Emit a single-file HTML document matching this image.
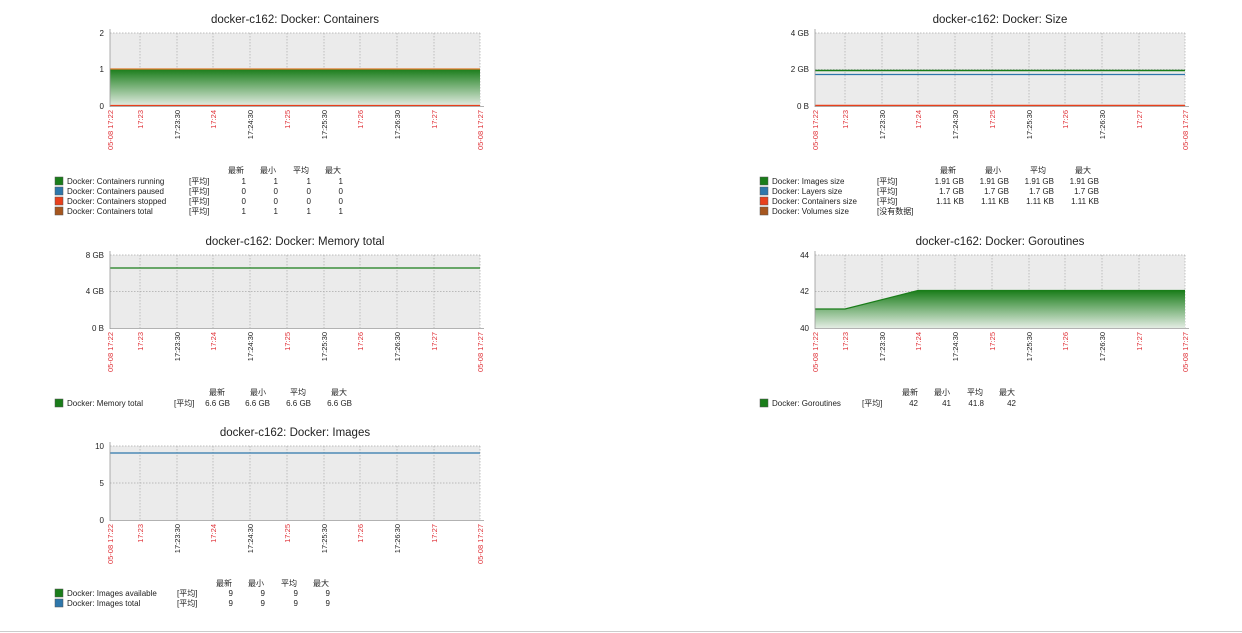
<!DOCTYPE html>
<html><head><meta charset="utf-8"><style>
body{margin:0;background:#fff;}
svg{display:block;font-family:"Liberation Sans","Noto Sans CJK SC",sans-serif;}
.t{font-size:11.5px;fill:#222;text-anchor:middle}
.y{font-size:8px;fill:#222;text-anchor:end}
.r{font-size:7.5px;fill:#e0343a;text-anchor:end}
.b{font-size:7.5px;fill:#222;text-anchor:end}
.l{font-size:8px;fill:#222}
.n{font-size:8px;fill:#222;text-anchor:end}
.h{font-size:8px;fill:#222;text-anchor:middle}
.g{stroke:#aaa;stroke-width:0.7;stroke-dasharray:1.5,1.5}
</style></head><body>
<svg width="1242" height="633" viewBox="0 0 1242 633">
<defs>
<linearGradient id="gf" x1="0" y1="0" x2="0" y2="1">
<stop offset="0" stop-color="#1a7d1a"/><stop offset="1" stop-color="#e3ede3"/>
</linearGradient>
</defs>

<!-- Chart 1 Containers -->
<g transform="translate(110,33)">
<text class="t" x="185" y="-10">docker-c162: Docker: Containers</text>
<rect x="0" y="0" width="370" height="73" fill="#ebebeb"/>
<g class="g"><line x1="0" y1="0" x2="370" y2="0"/><line x1="0" y1="36.5" x2="370" y2="36.5"/>
<line x1="30" y1="0" x2="30" y2="73"/><line x1="67" y1="0" x2="67" y2="73"/><line x1="103" y1="0" x2="103" y2="73"/><line x1="140" y1="0" x2="140" y2="73"/><line x1="177" y1="0" x2="177" y2="73"/><line x1="214" y1="0" x2="214" y2="73"/><line x1="250" y1="0" x2="250" y2="73"/><line x1="287" y1="0" x2="287" y2="73"/><line x1="324" y1="0" x2="324" y2="73"/><line x1="370" y1="0" x2="370" y2="73"/></g>
<rect x="0" y="36" width="370" height="37" fill="url(#gf)"/>
<line x1="0" y1="36" x2="370" y2="36" stroke="#e07a2a" stroke-width="1.2"/>
<line x1="0" y1="72.5" x2="370" y2="72.5" stroke="#e8401c" stroke-width="1.2"/>
<line x1="0" y1="-4" x2="0" y2="74" stroke="#999" stroke-width="0.8"/><line x1="0" y1="73.5" x2="374" y2="73.5" stroke="#999" stroke-width="0.8"/>
<text class="y" x="-6" y="3">2</text><text class="y" x="-6" y="39">1</text><text class="y" x="-6" y="76">0</text>
<g transform="translate(0,77)">
<text class="r" transform="translate(3,0) rotate(-90)">05-08 17:22</text>
<text class="r" transform="translate(33,0) rotate(-90)">17:23</text>
<text class="b" transform="translate(70,0) rotate(-90)">17:23:30</text>
<text class="r" transform="translate(106,0) rotate(-90)">17:24</text>
<text class="b" transform="translate(143,0) rotate(-90)">17:24:30</text>
<text class="r" transform="translate(180,0) rotate(-90)">17:25</text>
<text class="b" transform="translate(217,0) rotate(-90)">17:25:30</text>
<text class="r" transform="translate(253,0) rotate(-90)">17:26</text>
<text class="b" transform="translate(290,0) rotate(-90)">17:26:30</text>
<text class="r" transform="translate(327,0) rotate(-90)">17:27</text>
<text class="r" transform="translate(373,0) rotate(-90)">05-08 17:27</text>
</g>
</g>
<g transform="translate(55,173)">
<text class="h" x="181" y="0">最新</text><text class="h" x="213" y="0">最小</text><text class="h" x="246" y="0">平均</text><text class="h" x="278" y="0">最大</text>
<rect x="0" y="4" width="8" height="8" fill="#1a7d1a" stroke="#555" stroke-width="0.5"/><text class="l" x="12" y="11">Docker: Containers running</text><text class="l" x="134" y="11">[平均]</text><text class="n" x="191" y="11">1</text><text class="n" x="223" y="11">1</text><text class="n" x="256" y="11">1</text><text class="n" x="288" y="11">1</text>
<rect x="0" y="14" width="8" height="8" fill="#2e77ab" stroke="#555" stroke-width="0.5"/><text class="l" x="12" y="21">Docker: Containers paused</text><text class="l" x="134" y="21">[平均]</text><text class="n" x="191" y="21">0</text><text class="n" x="223" y="21">0</text><text class="n" x="256" y="21">0</text><text class="n" x="288" y="21">0</text>
<rect x="0" y="24" width="8" height="8" fill="#e8401c" stroke="#555" stroke-width="0.5"/><text class="l" x="12" y="31">Docker: Containers stopped</text><text class="l" x="134" y="31">[平均]</text><text class="n" x="191" y="31">0</text><text class="n" x="223" y="31">0</text><text class="n" x="256" y="31">0</text><text class="n" x="288" y="31">0</text>
<rect x="0" y="34" width="8" height="8" fill="#a6561f" stroke="#555" stroke-width="0.5"/><text class="l" x="12" y="41">Docker: Containers total</text><text class="l" x="134" y="41">[平均]</text><text class="n" x="191" y="41">1</text><text class="n" x="223" y="41">1</text><text class="n" x="256" y="41">1</text><text class="n" x="288" y="41">1</text>
</g>

<!-- Chart 2 Size -->
<g transform="translate(815,33)">
<text class="t" x="185" y="-10">docker-c162: Docker: Size</text>
<rect x="0" y="0" width="370" height="73" fill="#ebebeb"/>
<g class="g"><line x1="0" y1="0" x2="370" y2="0"/><line x1="0" y1="36.5" x2="370" y2="36.5"/>
<line x1="30" y1="0" x2="30" y2="73"/><line x1="67" y1="0" x2="67" y2="73"/><line x1="103" y1="0" x2="103" y2="73"/><line x1="140" y1="0" x2="140" y2="73"/><line x1="177" y1="0" x2="177" y2="73"/><line x1="214" y1="0" x2="214" y2="73"/><line x1="250" y1="0" x2="250" y2="73"/><line x1="287" y1="0" x2="287" y2="73"/><line x1="324" y1="0" x2="324" y2="73"/><line x1="370" y1="0" x2="370" y2="73"/></g>
<line x1="0" y1="37.5" x2="370" y2="37.5" stroke="#1a7d1a" stroke-width="1.5"/>
<line x1="0" y1="41.5" x2="370" y2="41.5" stroke="#2e77ab" stroke-width="1.2"/>
<line x1="0" y1="72.5" x2="370" y2="72.5" stroke="#e8401c" stroke-width="1.5"/>
<line x1="0" y1="-4" x2="0" y2="74" stroke="#999" stroke-width="0.8"/><line x1="0" y1="73.5" x2="374" y2="73.5" stroke="#999" stroke-width="0.8"/>
<text class="y" x="-6" y="3">4 GB</text><text class="y" x="-6" y="39">2 GB</text><text class="y" x="-6" y="76">0 B</text>
<g transform="translate(0,77)">
<text class="r" transform="translate(3,0) rotate(-90)">05-08 17:22</text>
<text class="r" transform="translate(33,0) rotate(-90)">17:23</text>
<text class="b" transform="translate(70,0) rotate(-90)">17:23:30</text>
<text class="r" transform="translate(106,0) rotate(-90)">17:24</text>
<text class="b" transform="translate(143,0) rotate(-90)">17:24:30</text>
<text class="r" transform="translate(180,0) rotate(-90)">17:25</text>
<text class="b" transform="translate(217,0) rotate(-90)">17:25:30</text>
<text class="r" transform="translate(253,0) rotate(-90)">17:26</text>
<text class="b" transform="translate(290,0) rotate(-90)">17:26:30</text>
<text class="r" transform="translate(327,0) rotate(-90)">17:27</text>
<text class="r" transform="translate(373,0) rotate(-90)">05-08 17:27</text>
</g>
</g>
<g transform="translate(760,173)">
<text class="h" x="188" y="0">最新</text><text class="h" x="233" y="0">最小</text><text class="h" x="278" y="0">平均</text><text class="h" x="323" y="0">最大</text>
<rect x="0" y="4" width="8" height="8" fill="#1a7d1a" stroke="#555" stroke-width="0.5"/><text class="l" x="12" y="11">Docker: Images size</text><text class="l" x="117" y="11">[平均]</text><text class="n" x="204" y="11">1.91 GB</text><text class="n" x="249" y="11">1.91 GB</text><text class="n" x="294" y="11">1.91 GB</text><text class="n" x="339" y="11">1.91 GB</text>
<rect x="0" y="14" width="8" height="8" fill="#2e77ab" stroke="#555" stroke-width="0.5"/><text class="l" x="12" y="21">Docker: Layers size</text><text class="l" x="117" y="21">[平均]</text><text class="n" x="204" y="21">1.7 GB</text><text class="n" x="249" y="21">1.7 GB</text><text class="n" x="294" y="21">1.7 GB</text><text class="n" x="339" y="21">1.7 GB</text>
<rect x="0" y="24" width="8" height="8" fill="#e8401c" stroke="#555" stroke-width="0.5"/><text class="l" x="12" y="31">Docker: Containers size</text><text class="l" x="117" y="31">[平均]</text><text class="n" x="204" y="31">1.11 KB</text><text class="n" x="249" y="31">1.11 KB</text><text class="n" x="294" y="31">1.11 KB</text><text class="n" x="339" y="31">1.11 KB</text>
<rect x="0" y="34" width="8" height="8" fill="#a6561f" stroke="#555" stroke-width="0.5"/><text class="l" x="12" y="41">Docker: Volumes size</text><text class="l" x="117" y="41">[没有数据]</text>
</g>

<!-- Chart 3 Memory -->
<g transform="translate(110,255)">
<text class="t" x="185" y="-10">docker-c162: Docker: Memory total</text>
<rect x="0" y="0" width="370" height="73" fill="#ebebeb"/>
<g class="g"><line x1="0" y1="0" x2="370" y2="0"/><line x1="0" y1="36.5" x2="370" y2="36.5"/>
<line x1="30" y1="0" x2="30" y2="73"/><line x1="67" y1="0" x2="67" y2="73"/><line x1="103" y1="0" x2="103" y2="73"/><line x1="140" y1="0" x2="140" y2="73"/><line x1="177" y1="0" x2="177" y2="73"/><line x1="214" y1="0" x2="214" y2="73"/><line x1="250" y1="0" x2="250" y2="73"/><line x1="287" y1="0" x2="287" y2="73"/><line x1="324" y1="0" x2="324" y2="73"/><line x1="370" y1="0" x2="370" y2="73"/></g>
<line x1="0" y1="13" x2="370" y2="13" stroke="#1a7d1a" stroke-width="1.2"/>
<line x1="0" y1="-4" x2="0" y2="74" stroke="#999" stroke-width="0.8"/><line x1="0" y1="73.5" x2="374" y2="73.5" stroke="#999" stroke-width="0.8"/>
<text class="y" x="-6" y="3">8 GB</text><text class="y" x="-6" y="39">4 GB</text><text class="y" x="-6" y="76">0 B</text>
<g transform="translate(0,77)">
<text class="r" transform="translate(3,0) rotate(-90)">05-08 17:22</text>
<text class="r" transform="translate(33,0) rotate(-90)">17:23</text>
<text class="b" transform="translate(70,0) rotate(-90)">17:23:30</text>
<text class="r" transform="translate(106,0) rotate(-90)">17:24</text>
<text class="b" transform="translate(143,0) rotate(-90)">17:24:30</text>
<text class="r" transform="translate(180,0) rotate(-90)">17:25</text>
<text class="b" transform="translate(217,0) rotate(-90)">17:25:30</text>
<text class="r" transform="translate(253,0) rotate(-90)">17:26</text>
<text class="b" transform="translate(290,0) rotate(-90)">17:26:30</text>
<text class="r" transform="translate(327,0) rotate(-90)">17:27</text>
<text class="r" transform="translate(373,0) rotate(-90)">05-08 17:27</text>
</g>
</g>
<g transform="translate(55,395)">
<text class="h" x="162" y="0">最新</text><text class="h" x="203" y="0">最小</text><text class="h" x="243" y="0">平均</text><text class="h" x="284" y="0">最大</text>
<rect x="0" y="4" width="8" height="8" fill="#1a7d1a" stroke="#555" stroke-width="0.5"/><text class="l" x="12" y="11">Docker: Memory total</text><text class="l" x="119" y="11">[平均]</text><text class="n" x="175" y="11">6.6 GB</text><text class="n" x="215" y="11">6.6 GB</text><text class="n" x="256" y="11">6.6 GB</text><text class="n" x="297" y="11">6.6 GB</text>
</g>

<!-- Chart 4 Goroutines -->
<g transform="translate(815,255)">
<text class="t" x="185" y="-10">docker-c162: Docker: Goroutines</text>
<rect x="0" y="0" width="370" height="73" fill="#ebebeb"/>
<g class="g"><line x1="0" y1="0" x2="370" y2="0"/><line x1="0" y1="36.5" x2="370" y2="36.5"/>
<line x1="30" y1="0" x2="30" y2="73"/><line x1="67" y1="0" x2="67" y2="73"/><line x1="103" y1="0" x2="103" y2="73"/><line x1="140" y1="0" x2="140" y2="73"/><line x1="177" y1="0" x2="177" y2="73"/><line x1="214" y1="0" x2="214" y2="73"/><line x1="250" y1="0" x2="250" y2="73"/><line x1="287" y1="0" x2="287" y2="73"/><line x1="324" y1="0" x2="324" y2="73"/><line x1="370" y1="0" x2="370" y2="73"/></g>
<polygon points="0,54 30,54 103,35.5 370,35.5 370,73 0,73" fill="url(#gf)"/>
<polyline points="0,54 30,54 103,35.5 370,35.5" fill="none" stroke="#1a7d1a" stroke-width="1.2"/>
<line x1="0" y1="-4" x2="0" y2="74" stroke="#999" stroke-width="0.8"/><line x1="0" y1="73.5" x2="374" y2="73.5" stroke="#999" stroke-width="0.8"/>
<text class="y" x="-6" y="3">44</text><text class="y" x="-6" y="39">42</text><text class="y" x="-6" y="76">40</text>
<g transform="translate(0,77)">
<text class="r" transform="translate(3,0) rotate(-90)">05-08 17:22</text>
<text class="r" transform="translate(33,0) rotate(-90)">17:23</text>
<text class="b" transform="translate(70,0) rotate(-90)">17:23:30</text>
<text class="r" transform="translate(106,0) rotate(-90)">17:24</text>
<text class="b" transform="translate(143,0) rotate(-90)">17:24:30</text>
<text class="r" transform="translate(180,0) rotate(-90)">17:25</text>
<text class="b" transform="translate(217,0) rotate(-90)">17:25:30</text>
<text class="r" transform="translate(253,0) rotate(-90)">17:26</text>
<text class="b" transform="translate(290,0) rotate(-90)">17:26:30</text>
<text class="r" transform="translate(327,0) rotate(-90)">17:27</text>
<text class="r" transform="translate(373,0) rotate(-90)">05-08 17:27</text>
</g>
</g>
<g transform="translate(760,395)">
<text class="h" x="150" y="0">最新</text><text class="h" x="182" y="0">最小</text><text class="h" x="215" y="0">平均</text><text class="h" x="247" y="0">最大</text>
<rect x="0" y="4" width="8" height="8" fill="#1a7d1a" stroke="#555" stroke-width="0.5"/><text class="l" x="12" y="11">Docker: Goroutines</text><text class="l" x="102" y="11">[平均]</text><text class="n" x="158" y="11">42</text><text class="n" x="191" y="11">41</text><text class="n" x="224" y="11">41.8</text><text class="n" x="256" y="11">42</text>
</g>

<!-- Chart 5 Images -->
<g transform="translate(110,446)">
<text class="t" x="185" y="-10">docker-c162: Docker: Images</text>
<rect x="0" y="0" width="370" height="74" fill="#ebebeb"/>
<g class="g"><line x1="0" y1="0" x2="370" y2="0"/><line x1="0" y1="37" x2="370" y2="37"/>
<line x1="30" y1="0" x2="30" y2="74"/><line x1="67" y1="0" x2="67" y2="74"/><line x1="103" y1="0" x2="103" y2="74"/><line x1="140" y1="0" x2="140" y2="74"/><line x1="177" y1="0" x2="177" y2="74"/><line x1="214" y1="0" x2="214" y2="74"/><line x1="250" y1="0" x2="250" y2="74"/><line x1="287" y1="0" x2="287" y2="74"/><line x1="324" y1="0" x2="324" y2="74"/><line x1="370" y1="0" x2="370" y2="74"/></g>
<line x1="0" y1="7" x2="370" y2="7" stroke="#2e77ab" stroke-width="1.3"/>
<line x1="0" y1="-4" x2="0" y2="75" stroke="#999" stroke-width="0.8"/><line x1="0" y1="74.5" x2="374" y2="74.5" stroke="#999" stroke-width="0.8"/>
<text class="y" x="-6" y="3">10</text><text class="y" x="-6" y="40">5</text><text class="y" x="-6" y="77">0</text>
<g transform="translate(0,78)">
<text class="r" transform="translate(3,0) rotate(-90)">05-08 17:22</text>
<text class="r" transform="translate(33,0) rotate(-90)">17:23</text>
<text class="b" transform="translate(70,0) rotate(-90)">17:23:30</text>
<text class="r" transform="translate(106,0) rotate(-90)">17:24</text>
<text class="b" transform="translate(143,0) rotate(-90)">17:24:30</text>
<text class="r" transform="translate(180,0) rotate(-90)">17:25</text>
<text class="b" transform="translate(217,0) rotate(-90)">17:25:30</text>
<text class="r" transform="translate(253,0) rotate(-90)">17:26</text>
<text class="b" transform="translate(290,0) rotate(-90)">17:26:30</text>
<text class="r" transform="translate(327,0) rotate(-90)">17:27</text>
<text class="r" transform="translate(373,0) rotate(-90)">05-08 17:27</text>
</g>
</g>
<g transform="translate(55,586)">
<text class="h" x="169" y="0">最新</text><text class="h" x="201" y="0">最小</text><text class="h" x="234" y="0">平均</text><text class="h" x="266" y="0">最大</text>
<rect x="0" y="3" width="8" height="8" fill="#1a7d1a" stroke="#555" stroke-width="0.5"/><text class="l" x="12" y="10">Docker: Images available</text><text class="l" x="122" y="10">[平均]</text><text class="n" x="178" y="10">9</text><text class="n" x="210" y="10">9</text><text class="n" x="243" y="10">9</text><text class="n" x="275" y="10">9</text>
<rect x="0" y="13" width="8" height="8" fill="#2e77ab" stroke="#555" stroke-width="0.5"/><text class="l" x="12" y="20">Docker: Images total</text><text class="l" x="122" y="20">[平均]</text><text class="n" x="178" y="20">9</text><text class="n" x="210" y="20">9</text><text class="n" x="243" y="20">9</text><text class="n" x="275" y="20">9</text>
</g>
<line x1="0" y1="631.5" x2="1242" y2="631.5" stroke="#ccc"/>
</svg>
</body></html>
